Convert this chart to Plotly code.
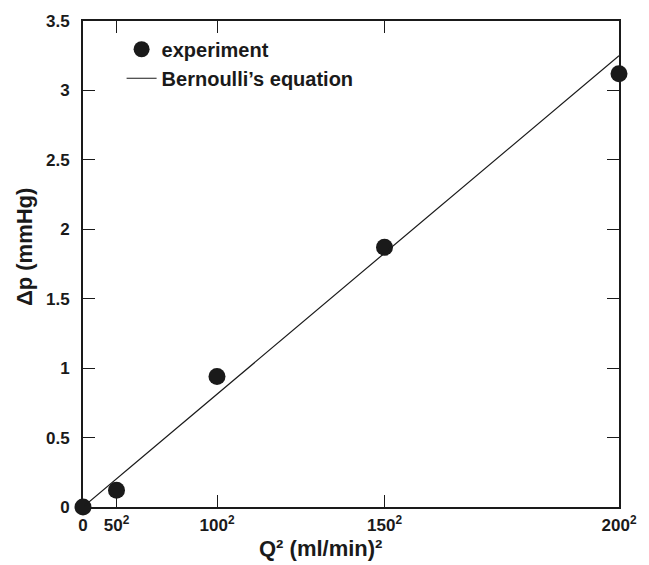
import plotly.graph_objects as go

# Data
q_flow = [0, 50, 100, 150, 200]                 # ml/min
q_squared = [q * q for q in q_flow]             # (ml/min)^2
dp_experiment = [0.0, 0.12, 0.94, 1.87, 3.12]   # mmHg
line_x = [0, 40000]
line_y = [0.0, 3.25]

x_tickvals = [0, 2500, 10000, 22500, 40000]
x_ticktext = ["0", "50<sup>2</sup>", "100<sup>2</sup>", "150<sup>2</sup>", "200<sup>2</sup>"]
y_tickvals = [0, 0.5, 1, 1.5, 2, 2.5, 3, 3.5]
y_ticktext = ["0", "0.5", "1", "1.5", "2", "2.5", "3", "3.5"]

FONT = "Liberation Sans, Arial, Helvetica, sans-serif"
INK = "#1a1a1a"

fig = go.Figure()
fig.add_trace(go.Scatter(
    x=q_squared, y=dp_experiment, mode="markers", name="experiment",
    marker=dict(color=INK, size=17), cliponaxis=False,
))
fig.add_trace(go.Scatter(
    x=line_x, y=line_y, mode="lines", name="Bernoulli\u2019s equation",
    line=dict(color=INK, width=1.2), cliponaxis=False,
))

axis_common = dict(
    showline=True, linecolor=INK, linewidth=2, mirror="ticks",
    ticks="inside", ticklen=12, tickwidth=1.2, tickcolor=INK,
    showgrid=False, zeroline=False,
    tickfont=dict(family=FONT, size=17, color=INK, weight="bold"),
)

fig.update_layout(
    width=649, height=565,
    margin=dict(l=83, r=28, t=15, b=58),
    paper_bgcolor="white", plot_bgcolor="white",
    showlegend=True,
    legend=dict(
        x=0.072, y=0.982, xanchor="left", yanchor="top",
        bgcolor="rgba(0,0,0,0)", borderwidth=0,
        font=dict(family=FONT, size=20, color=INK, weight="bold"),
        tracegroupgap=0,
    ),
    xaxis=dict(
        range=[0, 40000], tickvals=x_tickvals, ticktext=x_ticktext,
        ticklabelstandoff=2,
        **axis_common,
    ),
    yaxis=dict(
        range=[0, 3.5], tickvals=y_tickvals, ticktext=y_ticktext,
        ticklabelstandoff=8,
        **axis_common,
    ),
    annotations=[
        dict(text="Q\u00b2 (ml/min)\u00b2", xref="paper", yref="paper",
             x=0.444, y=-0.116, xanchor="center", yanchor="bottom", showarrow=False,
             font=dict(family=FONT, size=22, color=INK, weight="bold")),
        dict(text="\u0394p (mmHg)", xref="paper", yref="paper", textangle=-90,
             x=-0.108, y=0.535, xanchor="center", yanchor="middle", showarrow=False,
             font=dict(family=FONT, size=22, color=INK, weight="bold")),
    ],
)

fig.write_html("out.html")
